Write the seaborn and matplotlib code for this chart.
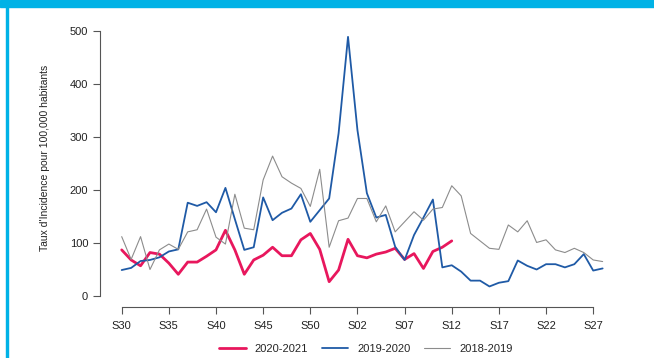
import numpy as np
import pandas as pd
import matplotlib
matplotlib.use("Agg")
import matplotlib.pyplot as plt
from matplotlib.patches import Rectangle
import seaborn as sns

# Weekly incidence rate per 100,000 inhabitants, week S30 to S28 of the next year
weeks = [f"S{w:02d}" for w in list(range(30, 54)) + list(range(1, 29))]

season_2020_2021 = [87, 68, 57, 82, 79, 62, 41, 64, 64, 75, 87, 124, 87, 41, 68, 77,
                    92, 76, 76, 106, 118, 88, 27, 49, 107, 76, 72, 79, 83, 90, 69, 80,
                    52, 84, 92, 104]
season_2019_2020 = [49, 53, 66, 68, 73, 84, 88, 176, 170, 177, 158, 204, 145, 87, 92, 186,
                    143, 157, 165, 192, 140, 162, 184, 307, 489, 313, 194, 148, 153, 93, 68, 115,
                    148, 182, 54, 58, 46, 29, 29, 18, 25, 28, 67, 57, 50, 60,
                    60, 54, 60, 79, 48, 52]
season_2018_2019 = [112, 69, 112, 50, 87, 98, 88, 121, 125, 164, 111, 98, 192, 128, 125, 219,
                    264, 225, 213, 203, 169, 239, 92, 142, 147, 184, 184, 140, 170, 121, 140, 159,
                    143, 164, 167, 208, 189, 118, 104, 90, 88, 134, 121, 142, 101, 106,
                    87, 82, 90, 82, 68, 65]

seasons = ["2020-2021", "2019-2020", "2018-2019"]
series = [season_2020_2021, season_2019_2020, season_2018_2019]
tick_every = 5
y_ticks = [0, 100, 200, 300, 400, 500]

frames = []
for name, vals in zip(seasons, series):
    frames.append(pd.DataFrame({"week_idx": np.arange(len(vals)),
                                "rate": vals, "season": name}))
df = pd.concat(frames, ignore_index=True)

sns.set_style("ticks")
plt.rcParams["font.family"] = ["Liberation Sans", "DejaVu Sans"]

W, H = 654, 358
fig = plt.figure(figsize=(W / 100, H / 100), dpi=100)
ax = fig.add_axes([100 / W, (H - 307) / H, 530 / W, (307 - 31) / H])

palette = {"2020-2021": "#e8175d", "2019-2020": "#1f5aa6", "2018-2019": "#8c8c8c"}
widths = {"2020-2021": 2.0, "2019-2020": 1.3, "2018-2019": 0.8}

for name in seasons:
    sub = df[df["season"] == name]
    sns.lineplot(data=sub, x="week_idx", y="rate", ax=ax, color=palette[name],
                 linewidth=widths[name], label=name, clip_on=False)

x_per_px = 1 / 9.43
ax.set_xlim(-21.7 * x_per_px, (630 - 121.7) * x_per_px)
y_per_px = 1 / 0.53
ax.set_ylim(-11 * y_per_px, 500)

xt = list(range(0, 51, tick_every))
ax.set_xticks(xt)
ax.set_xticklabels([weeks[i] for i in xt])
ax.set_yticks(y_ticks)
ax.set_yticklabels([str(v) for v in y_ticks])

for side in ["top", "right"]:
    ax.spines[side].set_visible(False)
ax.spines["left"].set_bounds(0, 500)
ax.spines["bottom"].set_bounds(0, 50)
for side in ["left", "bottom"]:
    ax.spines[side].set_color("#555555")
    ax.spines[side].set_linewidth(0.8)
ax.tick_params(axis="both", colors="#555555", labelcolor="#222222",
               labelsize=8, length=5, width=0.8)
ax.tick_params(axis="x", pad=5)
ax.set_xlabel("")
ax.set_ylabel("")
ax.grid(False)

fig.text(45 / W, 1 - 158 / H, "Taux d'Incidence pour 100,000 habitants",
         rotation=90, ha="center", va="center", fontsize=7.5, color="#222222")

ax.get_legend().remove()
handles, labels = ax.get_legend_handles_labels()
fig.legend(handles, labels, loc="center", bbox_to_anchor=(366 / W, 1 - 349 / H),
           ncol=3, frameon=False, fontsize=8, handlelength=2.4,
           columnspacing=1.2, handletextpad=0.8)

# Frame accents
cyan = "#00b2e6"
fig.patches.append(Rectangle((0, 1 - 7 / H), 1, 7 / H, transform=fig.transFigure,
                             color=cyan, zorder=10))
fig.patches.append(Rectangle((6 / W, 0), 2 / W, 1, transform=fig.transFigure,
                             color=cyan, zorder=10))

fig.savefig("out.png", dpi=100)
